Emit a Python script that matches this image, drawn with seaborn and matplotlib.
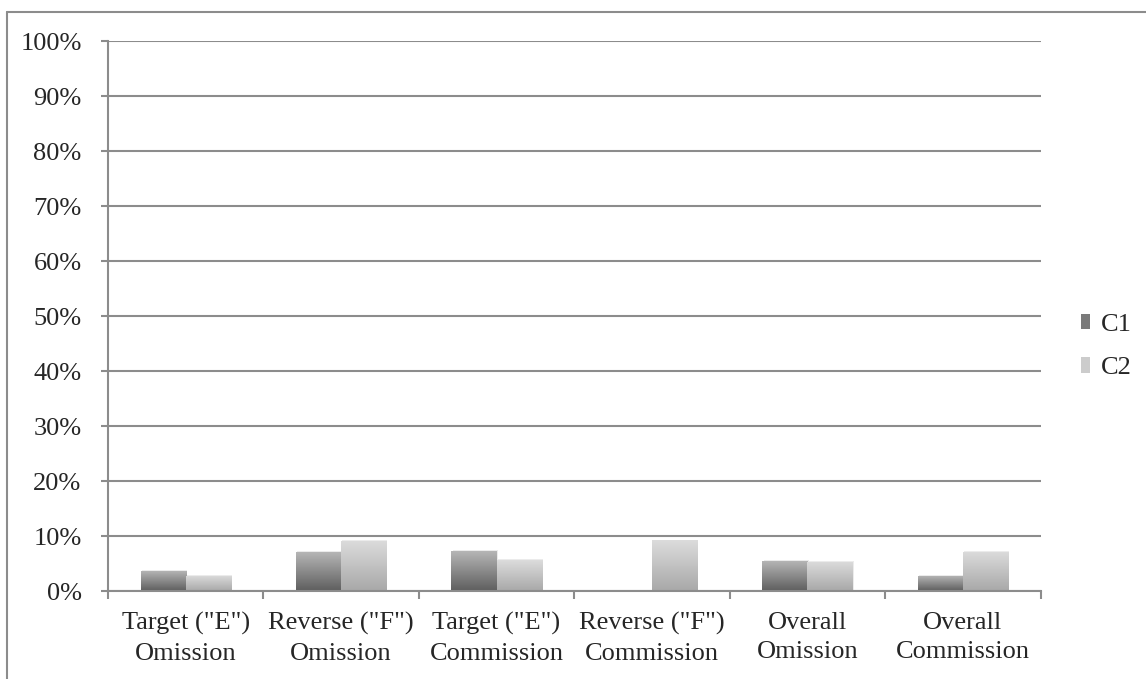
import matplotlib
matplotlib.use('Agg')
import matplotlib.pyplot as plt
import numpy as np
import pandas as pd
import seaborn as sns
from matplotlib.lines import Line2D
from matplotlib.patches import Patch
from matplotlib.colors import LinearSegmentedColormap
from matplotlib.ticker import FuncFormatter, FixedLocator

# Data (percent)
categories = ['Target ("E")\nOmission', 'Reverse ("F")\nOmission', 'Target ("E")\nCommission',
              'Reverse ("F")\nCommission', 'Overall\nOmission', 'Overall\nCommission']
c1_values = [3.7, 7.1, 7.3, 0.0, 5.5, 2.8]
c2_values = [2.8, 9.1, 5.6, 9.2, 5.3, 7.1]
series = ['C1', 'C2']

df = pd.DataFrame({
    'category': categories * 2,
    'series': ['C1'] * len(categories) + ['C2'] * len(categories),
    'value': c1_values + c2_values,
})

sns.set_style('white')
plt.rcParams['font.family'] = ['Liberation Serif', 'DejaVu Serif']

fig = plt.figure(figsize=(11.46, 6.79), dpi=100)
ax = fig.add_axes([0.0942, 0.1296, 0.908 - 0.0942, 0.9396 - 0.1296])

grey = '#8c8c8c'
ax.yaxis.grid(True, color=grey, linewidth=1.5, zorder=0)
ax.set_axisbelow(True)

sns.barplot(data=df, x='category', y='value', hue='series', order=categories,
            hue_order=series, palette=['#888888', '#c8c8c8'], width=0.58,
            dodge=True, ax=ax, legend=False, zorder=2)

# gradient fill for each bar
cmaps = {
    'C1': LinearSegmentedColormap.from_list('c1', ['#5e5e5e', '#b8b8b8']),
    'C2': LinearSegmentedColormap.from_list('c2', ['#a8a8a8', '#dcdcdc']),
}
grad = np.linspace(0, 1, 256).reshape(-1, 1)
n = len(categories)
for i, patch in enumerate(ax.patches[:2 * n]):
    s = series[i // n]
    x, w, h = patch.get_x(), patch.get_width(), patch.get_height()
    if h <= 0:
        continue
    # soft shadow
    ax.add_patch(plt.Rectangle((x + 0.008, 0), w, h + 0.15, color='#000000', alpha=0.08,
                               zorder=1.5, linewidth=0))
    patch.set_facecolor('none')
    patch.set_edgecolor('none')
    im = ax.imshow(grad, extent=[x, x + w, 0, h], origin='lower', aspect='auto',
                   cmap=cmaps[s], zorder=2, interpolation='bicubic')
    im.set_clip_path(patch)

ax.set_xlim(-0.5, n - 0.5)
ax.set_ylim(0, 100)
ax.set_yticks(np.arange(0, 101, 10))
ax.yaxis.set_major_formatter(FuncFormatter(lambda v, p: f'{int(v)}%'))
ax.set_xlabel('')
ax.set_ylabel('')

for side in ['top', 'right']:
    ax.spines[side].set_visible(False)
for side in ['left', 'bottom']:
    ax.spines[side].set_color(grey)
    ax.spines[side].set_linewidth(1.5)

ax.tick_params(axis='y', which='major', left=True, length=5, width=1.5, color=grey,
               pad=14, labelsize=19)
ax.tick_params(axis='x', which='major', bottom=False, length=0, pad=15, labelsize=19)
ax.xaxis.set_minor_locator(FixedLocator(np.arange(-0.5, n, 1.0)))
ax.tick_params(axis='x', which='minor', bottom=True, length=6, width=1.5, color=grey)
for lbl in ax.get_xticklabels():
    lbl.set_linespacing(1.45)

# legend
handles = [Patch(facecolor='#7a7a7a', edgecolor='none'),
           Patch(facecolor='#cccccc', edgecolor='none')]
ax.legend(handles, series, loc='center left', bbox_to_anchor=(1.018, 0.444), frameon=False,
          fontsize=19, handlelength=0.34, handleheight=0.5, handletextpad=0.4,
          labelspacing=0.8)

# outer chart frame (left and top visible)
fig.add_artist(Line2D([7 / 1146, 7 / 1146], [0, 1 - 12 / 679], color=grey, linewidth=1.5,
                      transform=fig.transFigure))
fig.add_artist(Line2D([7 / 1146, 1], [1 - 12 / 679, 1 - 12 / 679], color=grey, linewidth=1.5,
                      transform=fig.transFigure))

fig.savefig('out.png', dpi=100)
